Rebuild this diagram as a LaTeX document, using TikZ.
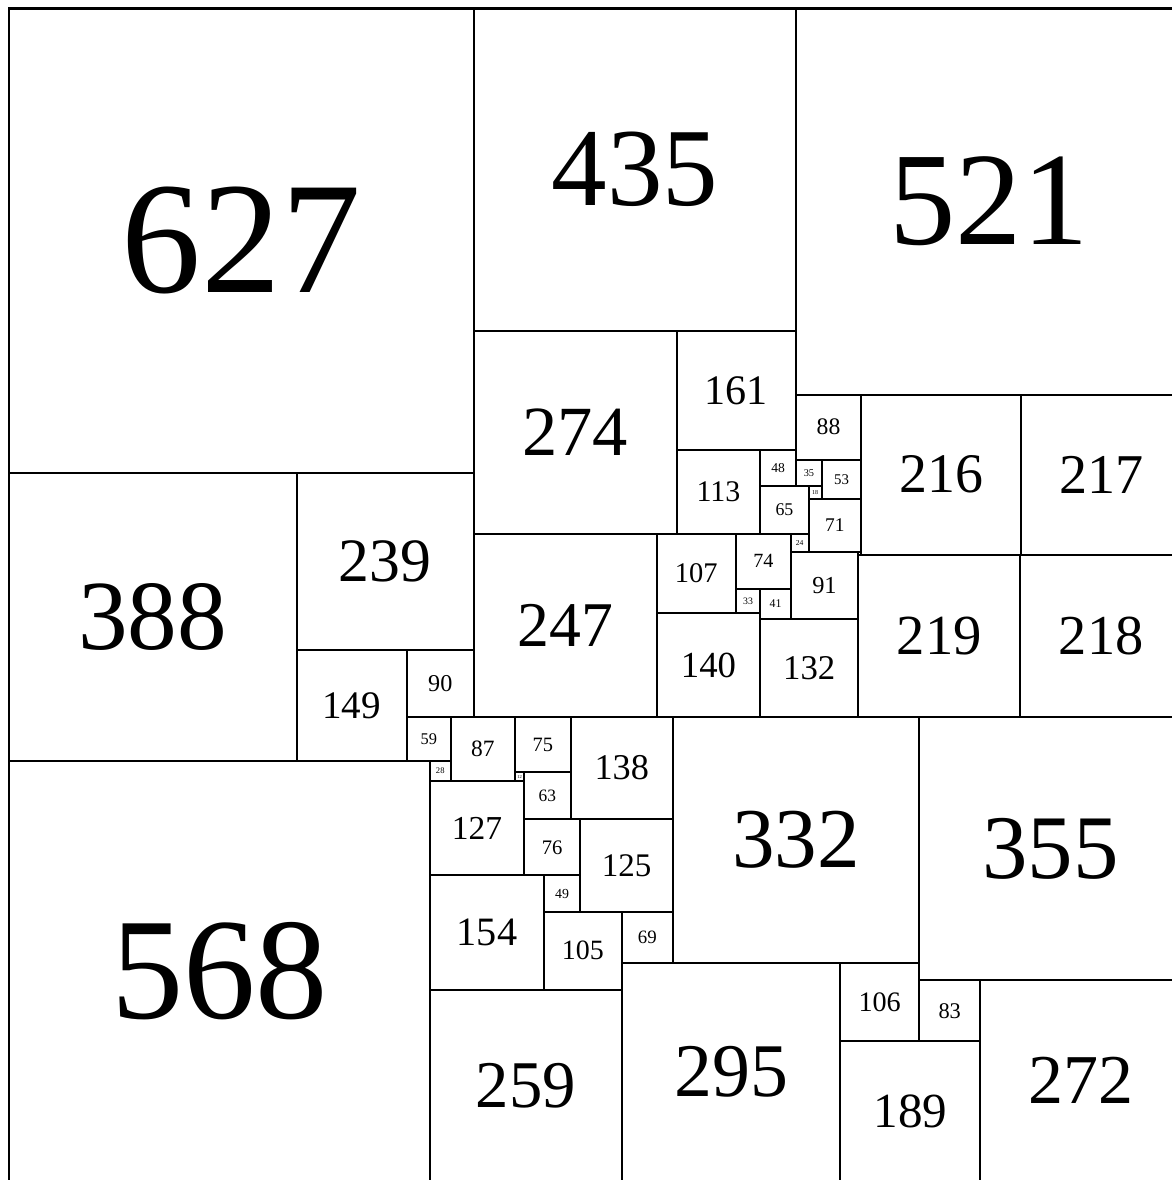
\documentclass[tikz,border=0pt]{standalone}
\usepackage{fontspec}
\setmainfont{Liberation Serif}
\tikzset{
  tile/.style={draw=black, line width=1.15pt, line join=miter},
  lbl/.style={inner sep=0pt, outer sep=0pt, text=black, anchor=center}
}
\newcommand\sqtile[3]{%
  \pgfmathsetmacro\tilefs{0.14336*#3+0.854}%
  \draw[tile] (#1,#2) rectangle ++(#3,#3);
  \node[lbl, font=\fontsize{\tilefs pt}{\tilefs pt}\selectfont] (s#3) at (#1+#3/2,#2+#3/2) {#3};%
}
\newcommand\sqplain[3]{%
  \draw[tile] (#1,#2) rectangle ++(#3,#3);%
}
\begin{document}
\begin{tikzpicture}[x=0.02cm,y=-0.02cm]
\useasboundingbox (0,0) rectangle (1172,1180);
\fill[white] (0,0) rectangle (1172,1180);
\clip (0,0) rectangle (1172,1180);
\begin{scope}[shift={(9,8.5)}, scale=0.741]
\sqtile{0}{0}{627}
\sqtile{627}{0}{435}
\sqtile{1062}{0}{521}
\sqtile{0}{627}{388}
\sqtile{388}{627}{239}
\sqtile{388}{866}{149}
\sqtile{537}{866}{90}
\sqtile{537}{956}{59}
\sqtile{0}{1015}{568}
\sqtile{568}{1015}{28}
\sqtile{627}{435}{274}
\sqtile{901}{435}{161}
\sqtile{901}{596}{113}
\sqtile{1014}{596}{48}
\sqtile{1014}{644}{65}
\sqtile{1062}{521}{88}
\sqtile{1062}{609}{35}
\sqtile{1097}{609}{53}
\sqtile{1079}{644}{18}
\sqtile{1079}{662}{71}
\sqtile{1055}{709}{24}
\sqtile{1150}{521}{216}
\sqtile{1366}{521}{217}
\sqtile{627}{709}{247}
\sqtile{874}{709}{107}
\sqtile{981}{709}{74}
\sqtile{981}{783}{33}
\sqtile{1014}{783}{41}
\sqtile{1055}{733}{91}
\sqplain{1146}{733}{4}
\sqtile{1146}{737}{219}
\sqplain{1365}{737}{1}
\sqtile{1365}{738}{218}
\sqtile{874}{816}{140}
\sqtile{1014}{824}{132}
\sqtile{596}{956}{87}
\sqtile{683}{956}{75}
\sqtile{683}{1031}{12}
\sqtile{695}{1031}{63}
\sqtile{758}{956}{138}
\sqtile{896}{956}{332}
\sqtile{1228}{956}{355}
\sqtile{568}{1043}{127}
\sqtile{695}{1094}{76}
\sqtile{771}{1094}{125}
\sqtile{568}{1170}{154}
\sqtile{722}{1170}{49}
\sqtile{722}{1219}{105}
\sqtile{827}{1219}{69}
\sqtile{568}{1324}{259}
\sqtile{827}{1288}{295}
\sqtile{1122}{1288}{106}
\sqtile{1228}{1311}{83}
\sqtile{1122}{1394}{189}
\sqtile{1311}{1311}{272}
\end{scope}
\end{tikzpicture}
\end{document}
